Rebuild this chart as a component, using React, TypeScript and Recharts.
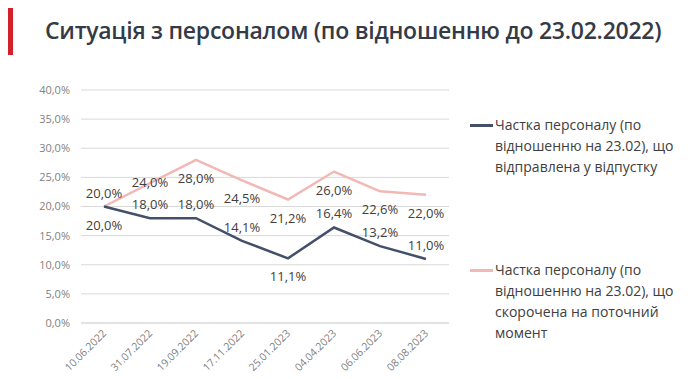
import React from 'react'
import { LineChart, Line, XAxis, YAxis, CartesianGrid, LabelList } from 'recharts'

const dates = ['10.06.2022', '31.07.2022', '19.09.2022', '17.11.2022', '25.01.2023', '04.04.2023', '06.06.2023', '08.08.2023']
const vacationShare = [20.0, 18.0, 18.0, 14.1, 11.1, 16.4, 13.2, 11.0]
const reducedShare = [20.0, 24.0, 28.0, 24.5, 21.2, 26.0, 22.6, 22.0]
const yTicks = [0, 5, 10, 15, 20, 25, 30, 35, 40]
const boundaryTicks = [0, 1, 2, 3, 4, 5, 6, 7, 8]

const vacationName = ['Частка персоналу (по', 'відношенню на 23.02), що', 'відправлена у відпустку']
const reducedName = ['Частка персоналу (по', 'відношенню на 23.02), що', 'скорочена на поточний', 'момент']

const DARK = '#44506a'
const PINK = '#f2b8b5'
const FONT = '"Open Sans", "Noto Sans", sans-serif'

// where each point's value label sits relative to the point
const darkPlace = ['below', 'above', 'above', 'above', 'below', 'above', 'above', 'above']
const pinkPlace = ['above', 'on', 'below', 'below', 'below', 'below', 'below', 'below']

const data = dates.map((d, i) => ({ date: d, vacation: vacationShare[i], reduced: reducedShare[i] }))

const pct = (v: number) => `${v.toFixed(1).replace('.', ',')}%`

function makeLabel(place: string[]) {
  return (props: any) => {
    const { x, y, value, index } = props
    const p = place[index]
    const dy = p === 'above' ? -14 : p === 'below' ? 18 : -1
    return (
      <text x={x} y={y + dy} textAnchor="middle" dominantBaseline="central" fontSize={13} fill="#404040" fontFamily={FONT}>
        {pct(Number(value))}
      </text>
    )
  }
}

function DateTick(props: any) {
  const { x, y, payload } = props
  const tx = x + 3
  const ty = y + 3
  return (
    <text x={tx} y={ty} transform={`rotate(-45, ${tx}, ${ty})`} textAnchor="end" fontSize={10.5} fill="#7f7f7f" fontFamily={FONT}>
      {payload.value}
    </text>
  )
}

function LegendItem({ color, lines, top }: { color: string; lines: string[]; top: number }) {
  return (
    <div style={{ position: 'absolute', left: 470, top, display: 'flex' }}>
      <div style={{ width: 23, height: 2.5, background: color, marginTop: 10, flexShrink: 0 }} />
      <div style={{ marginLeft: 2, fontSize: 14, lineHeight: '21px', color: '#404040', fontFamily: FONT, whiteSpace: 'nowrap' }}>
        {lines.map((l, i) => <div key={i}>{l}</div>)}
      </div>
    </div>
  )
}

export default function App() {
  return (
    <div style={{ position: 'relative', width: 690, height: 379, margin: -8, background: '#fff', fontFamily: FONT }}>
      <div style={{ position: 'absolute', left: 4, top: 5, width: 9, height: 50, background: '#d42027' }} />
      <div style={{ position: 'absolute', left: 45, top: 14, fontSize: 23, letterSpacing: -0.25, fontWeight: 600, color: '#343a46', whiteSpace: 'nowrap' }}>
        Ситуація з персоналом (по відношенню до 23.02.2022)
      </div>
      <LineChart width={690} height={379} data={data} margin={{ top: 90, right: 241, bottom: 6, left: 0 }}>
        <CartesianGrid horizontal vertical={false} stroke="#d9d9d9" />
        <XAxis xAxisId="grid" type="number" domain={[0, 8]} ticks={boundaryTicks} tick={false} axisLine={false} tickLine={{ stroke: '#d9d9d9' }} tickSize={5} height={0} />
        <XAxis dataKey="date" padding={{ left: 23, right: 23 }} axisLine={{ stroke: '#d9d9d9' }} tickLine={false} tick={<DateTick />} interval={0} height={50} />
        <YAxis domain={[0, 40]} ticks={yTicks} tickFormatter={pct} axisLine={false} tickLine={false} tickSize={0} tickMargin={11} width={81} tick={{ fontSize: 11, fill: '#7f7f7f', fontFamily: FONT }} />
        <Line dataKey="reduced" stroke={PINK} strokeWidth={2.5} dot={false} isAnimationActive={false}>
          <LabelList dataKey="reduced" content={makeLabel(pinkPlace)} />
        </Line>
        <Line dataKey="vacation" stroke={DARK} strokeWidth={2.5} dot={false} isAnimationActive={false}>
          <LabelList dataKey="vacation" content={makeLabel(darkPlace)} />
        </Line>
      </LineChart>
      <LegendItem color={DARK} lines={vacationName} top={114} />
      <LegendItem color={PINK} lines={reducedName} top={259} />
    </div>
  )
}
